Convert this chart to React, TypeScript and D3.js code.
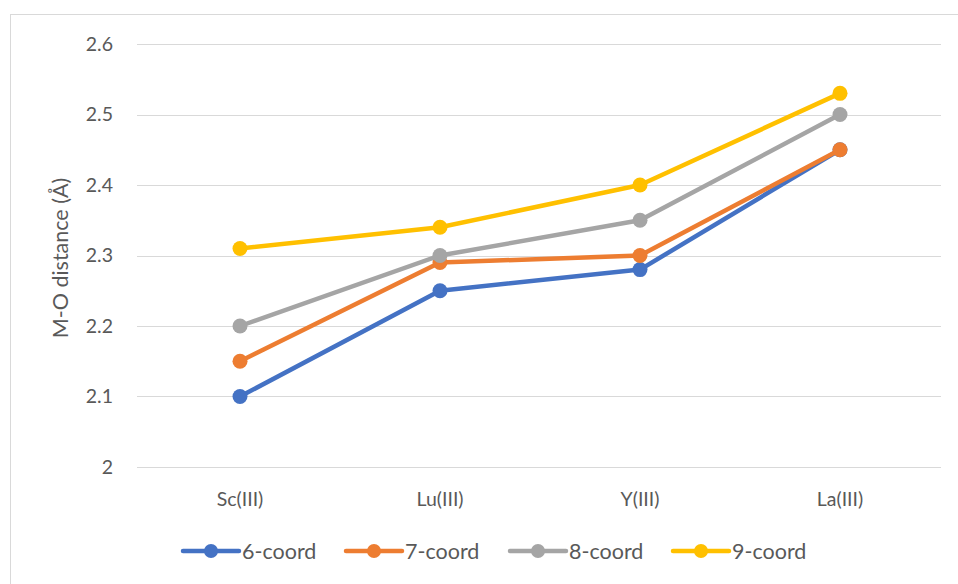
import React from "react";
import * as d3 from "d3";

const categories = ["Sc(III)", "Lu(III)", "Y(III)", "La(III)"];
const seriesNames = ["6-coord", "7-coord", "8-coord", "9-coord"];
const coord6 = [2.1, 2.25, 2.28, 2.45];
const coord7 = [2.15, 2.29, 2.3, 2.45];
const coord8 = [2.2, 2.3, 2.35, 2.5];
const coord9 = [2.31, 2.34, 2.4, 2.53];
const yTicks = [2, 2.1, 2.2, 2.3, 2.4, 2.5, 2.6];
const colors = ["#4472C4", "#ED7D31", "#A5A5A5", "#FFC000"];

const W = 958;
const H = 584;
const font = "Lato, 'Open Sans', sans-serif";

export default function App() {
  const allSeries = [coord6, coord7, coord8, coord9];
  const x = d3.scaleBand<string>().domain(categories).range([140, 940]);
  const y = d3.scaleLinear().domain([2, 2.6]).range([467, 44]);
  const line = d3
    .line<number>()
    .x((_, i) => (x(categories[i]) as number) + x.bandwidth() / 2)
    .y((d) => y(d));
  const legendX = [183, 346, 510, 673];
  const legendY = 551;
  return (
    <svg
      width={W}
      height={H}
      style={{ position: "absolute", left: 0, top: 0, background: "#fff" }}
      fontFamily={font}
    >
      <rect x={10.5} y={14.5} width={W} height={H} fill="#fff" stroke="#D9D9D9" strokeWidth={1} />
      {yTicks.map((t) => (
        <g key={t}>
          <line x1={137} x2={941} y1={Math.round(y(t)) + 0.5} y2={Math.round(y(t)) + 0.5} stroke="#D9D9D9" strokeWidth={1.2} />
          <text x={113} y={y(t)} dy="0.35em" textAnchor="end" fontSize={19.5} fill="#595959">
            {String(t)}
          </text>
        </g>
      ))}
      {categories.map((c) => (
        <text key={c} x={(x(c) as number) + x.bandwidth() / 2} y={499} dy="0.35em" textAnchor="middle" fontSize={19.5} fill="#595959">
          {c}
        </text>
      ))}
      <text transform={`translate(60,258) rotate(-90)`} textAnchor="middle" dy="0.35em" fontSize={21.5} fill="#595959">
        M-O distance (Å)
      </text>
      {allSeries.map((s, si) => (
        <g key={seriesNames[si]}>
          <path d={line(s) as string} fill="none" stroke={colors[si]} strokeWidth={4.5} strokeLinejoin="round" strokeLinecap="round" />
          {s.map((v, i) => (
            <circle key={i} cx={(x(categories[i]) as number) + x.bandwidth() / 2} cy={y(v)} r={7.5} fill={colors[si]} />
          ))}
        </g>
      ))}
      {seriesNames.map((n, i) => (
        <g key={n}>
          <line x1={legendX[i]} x2={legendX[i] + 56} y1={legendY} y2={legendY} stroke={colors[i]} strokeWidth={4.5} strokeLinecap="round" />
          <circle cx={legendX[i] + 28} cy={legendY} r={7} fill={colors[i]} />
          <text x={legendX[i] + 59} y={legendY} dy="0.35em" fontSize={21.5} fill="#595959">
            {n}
          </text>
        </g>
      ))}
    </svg>
  );
}
